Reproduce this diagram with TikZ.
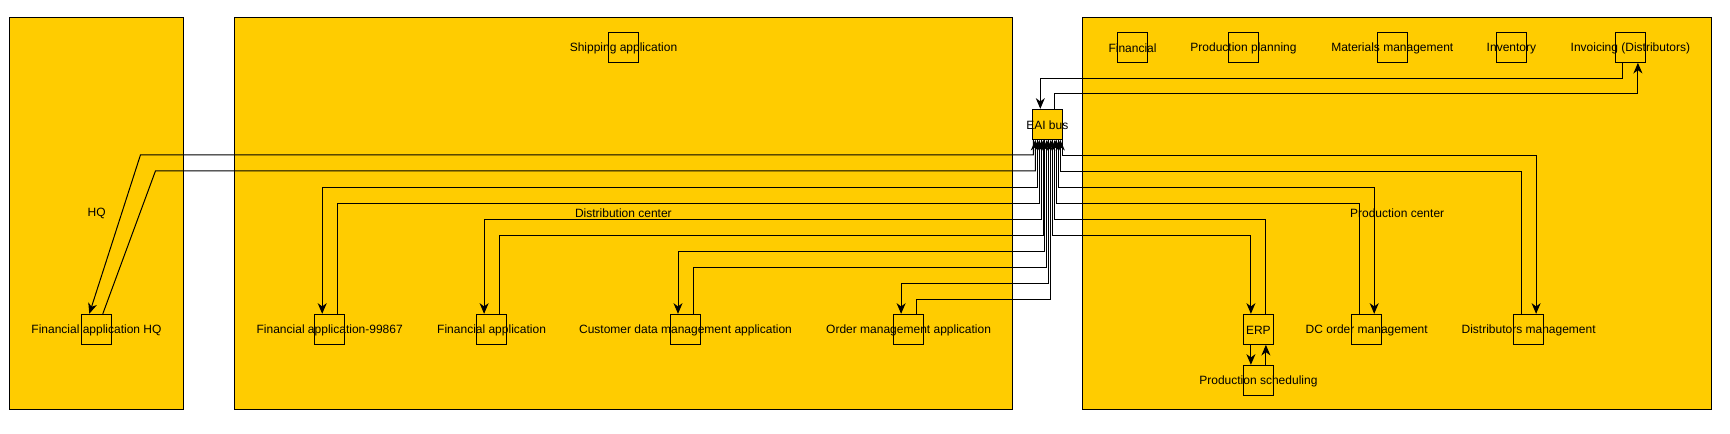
\documentclass[tikz,border=0pt]{standalone}
\usepackage{fontspec}
\setmainfont{Liberation Sans}
\usetikzlibrary{arrows.meta,positioning,calc}
\definecolor{zoneyellow}{HTML}{FFCC00}

\begin{document}
\begin{tikzpicture}[
  x=.75pt, y=-.75pt,
  font=\fontsize{9pt}{11pt}\selectfont,
  line width=.75pt,
  zone/.style={draw, fill=zoneyellow, minimum height=294pt, inner sep=0pt},
  app/.style={draw, fill=zoneyellow, minimum size=22.5pt, inner sep=0pt, label={[yshift=-1pt]center:#1}},
  flow/.style={-{Stealth[length=8pt,width=6.75pt,inset=2.5pt]}, line width=.75pt}
]
\useasboundingbox (0,0) rectangle (1730,433);

% Sites
\node[zone, minimum width=130.5pt] (hq) at (96.6,213.3) {HQ};
\node[zone, minimum width=583.7pt] (dc) at (623.35,213.3) {Distribution center};
\node[zone, minimum width=471.8pt] (pc) at (1397.15,213.3) {Production center};

% Applications
\node[app=EAI bus] (bus) at (1047.3,124.3) {};
\node[app=Financial application HQ] (hqfin) at (96.5,329.3) {};
\node[app=Shipping application] (ship) at (623.5,47.3) {};
\node[app=Financial application-99867] (fin99) at (329.7,329.3) {};
\node[app=Financial application] (fin) at (491.6,329.3) {};
\node[app=Customer data management application] (crm) at (685.5,329.3) {};
\node[app=Order management application] (order) at (908.6,329.3) {};
\node[app=Financial] (pfin) at (1132.5,47.3) {};
\node[app=Production planning] (plan) at (1243.5,47.3) {};
\node[app=Materials management] (mat) at (1392.3,47.3) {};
\node[app=Inventory] (inv) at (1511.4,47.3) {};
\node[app=Invoicing (Distributors)] (invoice) at (1630.4,47.3) {};
\node[app=ERP] (erp) at (1258.4,329.3) {};
\node[app=Production scheduling, below=15pt of erp] (psched) {};
\node[app=DC order management] (dcorder) at (1366.7,329.3) {};
\node[app=Distributors management] (distm) at (1528.6,329.3) {};

% Bus links, left side
\draw[flow] ($(bus.south)+(-14,0)$) |- ($(hqfin.north)+(44,-159)$) -- ($(hqfin.north)+(-7.2,0)$);
\draw[flow] ($(hqfin.north)+(6.3,0)$) -- ($(hqfin.north)+(59,-143)$) -| ($(bus.south)+(-12,0)$);
\draw[flow] ($(bus.south)+(-10,0)$) -- ++(0,48) -| ($(fin99.north)+(-7.5,0)$);
\draw[flow] ($(fin99.north)+(7.5,0)$) |- ($(bus.south)+(-8,64)$) -- ++(0,-64);
\draw[flow] ($(bus.south)+(-6,0)$) -- ++(0,80) -| ($(fin.north)+(-7.5,0)$);
\draw[flow] ($(fin.north)+(7.5,0)$) |- ($(bus.south)+(-4,96)$) -- ++(0,-96);
\draw[flow] ($(bus.south)+(-2.5,0)$) -- ++(0,112) -| ($(crm.north)+(-7.5,0)$);
\draw[flow] ($(crm.north)+(7.5,0)$) |- ($(bus.south)+(-0.5,128)$) -- ++(0,-128);
\draw[flow] ($(bus.south)+(1.5,0)$) -- ++(0,144) -| ($(order.north)+(-7.5,0)$);
\draw[flow] ($(order.north)+(7.5,0)$) |- ($(bus.south)+(3.5,160)$) -- ++(0,-160);

% Bus links, right side
\draw[flow] ($(bus.south)+(15,0)$) -- ++(0,16) -| ($(distm.north)+(7.5,0)$);
\draw[flow] ($(distm.north)+(-7.5,0)$) |- ($(bus.south)+(13,32)$) -- ++(0,-32);
\draw[flow] ($(bus.south)+(11,0)$) -- ++(0,48) -| ($(dcorder.north)+(7.5,0)$);
\draw[flow] ($(dcorder.north)+(-7.5,0)$) |- ($(bus.south)+(9,64)$) -- ++(0,-64);
\draw[flow] ($(erp.north)+(7.5,0)$) |- ($(bus.south)+(7.5,80)$) -- ++(0,-80);
\draw[flow] ($(bus.south)+(5.5,0)$) -- ++(0,96) -| ($(erp.north)+(-7.5,0)$);

% Invoicing and scheduling
\draw[flow] ($(invoice.south)+(-7.5,0)$) -- ++(0,16) -| ($(bus.north)+(-7,0)$);
\draw[flow] ($(bus.north)+(7.5,0)$) -- ++(0,-15) -| ($(invoice.south)+(7.5,0)$);
\draw[flow] ($(erp.south)+(-7.5,0)$) -- ($(psched.north)+(-7.5,0)$);
\draw[flow] ($(psched.north)+(7.5,0)$) -- ($(erp.south)+(7.5,0)$);
\end{tikzpicture}
\end{document}
